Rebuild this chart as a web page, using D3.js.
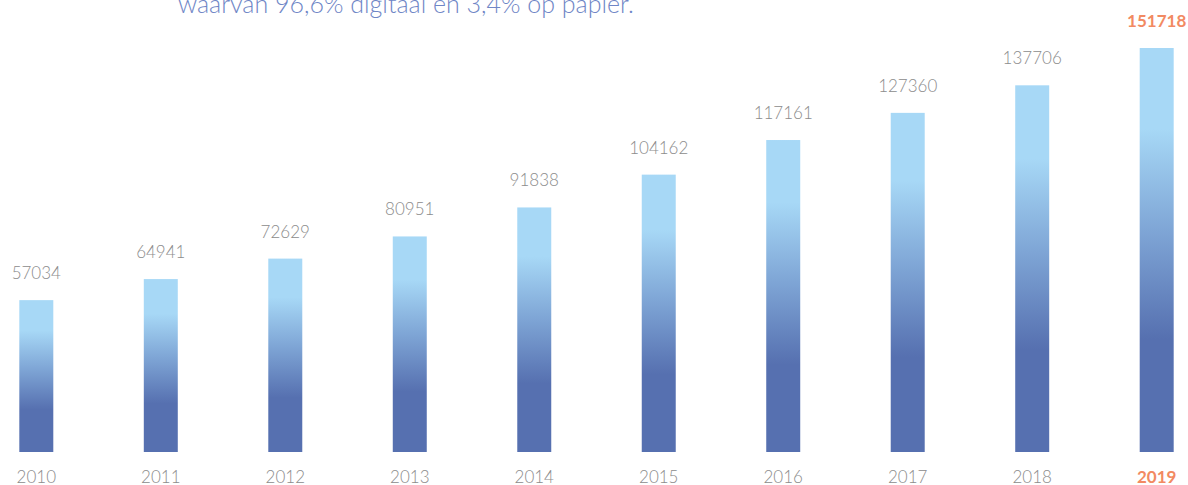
<!DOCTYPE html>
<html>
<head>
<meta charset="utf-8">
<script src="https://cdn.jsdelivr.net/npm/d3@7"></script>
<style>
  body { margin: 0; background: #fff; }
  svg { display: block; }
</style>
</head>
<body>
<div id="root"></div>
<script>
// Data
var years = ["2010", "2011", "2012", "2013", "2014", "2015", "2016", "2017", "2018", "2019"];
var values = [57034, 64941, 72629, 80951, 91838, 104162, 117161, 127360, 137706, 151718];
var highlightYear = "2019";
var subtitle = "waarvan 96,6% digitaal en 3,4% op papier.";

var width = 1188, height = 485;
var baseline = 452;

var svg = d3.select("#root")
  .append("svg")
  .attr("width", width)
  .attr("height", height);

// Gradient per bar (bounding box)
var gradient = svg.append("defs")
  .append("linearGradient")
  .attr("id", "barGradient")
  .attr("x1", "0%").attr("y1", "0%")
  .attr("x2", "0%").attr("y2", "100%");

gradient.append("stop").attr("offset", "0%").attr("stop-color", "#a7d8f6");
gradient.append("stop").attr("offset", "20%").attr("stop-color", "#a7d8f6");
gradient.append("stop").attr("offset", "45%").attr("stop-color", "#7fa6d6");
gradient.append("stop").attr("offset", "72%").attr("stop-color", "#5670b0");
gradient.append("stop").attr("offset", "100%").attr("stop-color", "#5670b0");

// Scales
var x = d3.scaleBand()
  .domain(years)
  .range([-26, 1219])
  .paddingInner(0.727)
  .paddingOuter(0.364);

var y = d3.scaleLinear()
  .domain([0, 151718])
  .range([baseline, 48]);

// Subtitle (cut off at top)
svg.append("text")
  .attr("x", 178)
  .attr("y", 13)
  .text(subtitle)
  .attr("fill", "#6f86c6")
  .attr("font-family", "Lato, 'Open Sans', sans-serif")
  .attr("font-weight", "300")
  .attr("font-size", "25px");

// Bars
svg.selectAll(".bar")
  .data(years)
  .enter().append("rect")
  .attr("class", "bar")
  .attr("x", function (d) { return x(d); })
  .attr("y", function (d, i) { return y(values[i]); })
  .attr("width", x.bandwidth())
  .attr("height", function (d, i) { return baseline - y(values[i]); })
  .attr("fill", "url(#barGradient)");

// Value labels
svg.selectAll(".valueLabel")
  .data(years)
  .enter().append("text")
  .attr("class", "valueLabel")
  .attr("x", function (d) { return x(d) + x.bandwidth() / 2; })
  .attr("y", function (d, i) { return y(values[i]) - 21; })
  .attr("text-anchor", "middle")
  .text(function (d, i) { return values[i]; })
  .attr("fill", function (d) { return d == highlightYear ? "#f28a62" : "#8c8c8c"; })
  .attr("font-weight", function (d) { return d == highlightYear ? "700" : "300"; })
  .attr("font-family", "Lato, 'Open Sans', sans-serif")
  .attr("font-size", "17px");

// X axis
var xAxis = svg.append("g")
  .attr("transform", "translate(0," + baseline + ")")
  .call(d3.axisBottom(x).tickSize(0).tickPadding(19));

xAxis.select(".domain").remove();
xAxis.selectAll("text")
  .attr("fill", function (d) { return d == highlightYear ? "#f28a62" : "#8c8c8c"; })
  .attr("font-weight", function (d) { return d == highlightYear ? "700" : "300"; })
  .attr("font-family", "Lato, 'Open Sans', sans-serif")
  .attr("font-size", "17px");
</script>
</body>
</html>
